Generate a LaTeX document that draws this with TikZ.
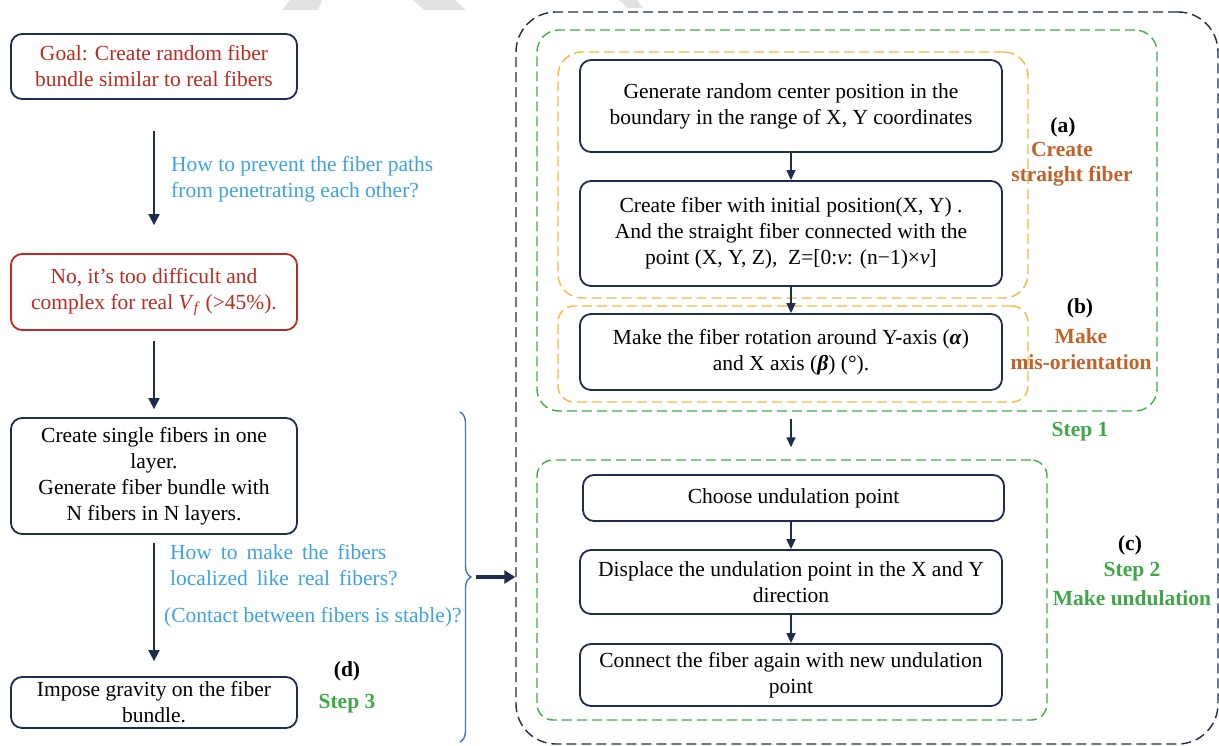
\documentclass[tikz,border=0pt]{standalone}
\usepackage{fontspec}
\setmainfont{Liberation Serif}
\usetikzlibrary{arrows.meta,decorations.pathreplacing}
\definecolor{navy}{HTML}{1F2D4D}
\definecolor{redc}{HTML}{BE2A1F}
\definecolor{bluet}{HTML}{3DA2E6}
\definecolor{gold}{HTML}{F6B93B}
\definecolor{greend}{HTML}{45A84A}
\definecolor{greent}{HTML}{3FA64A}
\definecolor{brown}{HTML}{C2622A}
\definecolor{bracec}{HTML}{4A72C2}
\definecolor{wm}{HTML}{E2E2E2}
\begin{document}
\begin{tikzpicture}[x=1pt,y=-1pt,
  every node/.style={font=\fontsize{21.5}{26}\selectfont, inner sep=0pt},
  box/.style={draw=navy, line width=1.8pt, rounded corners=11pt, align=center},
  grp/.style={draw, line width=1.4pt, dash pattern=on 10pt off 5pt, minimum width=10pt},
  arr/.style={draw=navy, line width=1.4pt, -{Triangle[length=10pt,width=9pt]}},
  larr/.style={draw=navy, line width=2.2pt, -{Triangle[length=11pt,width=11pt]}},
  quest/.style={text=bluet, align=left, anchor=west},
  lab/.style={font=\fontsize{21.5}{26}\selectfont\bfseries}
]
\useasboundingbox (0,0) rectangle (1219,746);
% watermark fragments
\fill[wm] (290,0) -- (322,0) -- (318,10) -- (282,10) -- cycle;
\fill[wm] (413,0) -- (455,0) -- (466,10) -- (424,10) -- cycle;
\fill[wm] (619,0) -- (637,0) -- (643,8) -- (628,8) -- cycle;

% ---------- left column ----------
\node[box, text=redc, minimum width=286, minimum height=65] (goal) at (154,66.5)
  {Goal: Create random fiber\\bundle similar to real fibers};
\node[box, draw=redc, text=redc, minimum width=286, minimum height=76] (no) at (154,292)
  {No, it’s too difficult and\\complex for real \textit{V}\textsubscript{\textit{f}} (>45\%).};
\node[box, minimum width=286, minimum height=116] (single) at (154,476)
  {Create single fibers in one\\layer.\\Generate fiber bundle with\\N fibers in N layers.};
\node[box, minimum width=286, minimum height=51] (impose) at (154,702.5)
  {Impose gravity on the fiber\\bundle.};

\draw[larr, shorten <=31pt, shorten >=28pt] (goal.south) -- (no.north);
\draw[larr, shorten <=10pt, shorten >=8pt] (no.south) -- (single.north);
\draw[larr, shorten <=8pt, shorten >=15pt] (single.south) -- (impose.north);

\node[quest] (q1) at (171,179) {How to prevent the fiber paths\\from penetrating each other?};
\node[quest] (q2) at (170,565) {How\, to\, make\, the\, fibers\\localized\, like\, real\, fibers?};
\node[quest] (q3) at (164,617) {(Contact between fibers is stable)?};

\node[lab] (d) at (347,671) {(d)};
\node[lab, text=greent] (s3) at (347,704) {Step 3};

% brace
\draw[bracec, line width=1.4pt, decorate, decoration={brace, amplitude=11pt}] (460,412) -- (460,742);
\coordinate (brtip) at (476,577);

% ---------- right column ----------
\node[grp, draw=navy, rounded corners=40pt, minimum width=702, minimum height=732] (outer) at (867,378) {};
\node[grp, draw=greend, rounded corners=22pt, minimum width=620, minimum height=381] (step1) at (847,220.5) {};
\node[grp, draw=gold, rounded corners=24pt, minimum width=470, minimum height=246] (ga) at (793,175) {};
\node[grp, draw=gold, rounded corners=16pt, minimum width=470, minimum height=96] (gb) at (793,354) {};
\node[grp, draw=greend, rounded corners=16pt, minimum width=510, minimum height=260] (step2) at (792,590) {};

\draw[navy, line width=4pt, -{Triangle[length=11pt,width=13pt]}] (brtip) -- (brtip -| outer.west);

\node[box, minimum width=422, minimum height=92] (gen) at (791,106)
  {Generate random center position in the\\boundary in the range of X, Y coordinates};
\node[box, minimum width=422, minimum height=105] (fib) at (791,233.5)
  {Create fiber with initial position(X, Y) .\\And the straight fiber connected with the\\point (X, Y, Z),\ \ Z=[0:\textit{v}: (n−1)×\textit{v}]};
\node[box, minimum width=422, minimum height=76] (rot) at (791,352)
  {Make the fiber rotation around Y-axis (\textbf{\textit{α}})\\and X axis (\textbf{\textit{β}}) (°).};
\node[box, minimum width=421, minimum height=46] (choose) at (793.5,498)
  {Choose undulation point};
\node[box, minimum width=422, minimum height=64] (disp) at (791,582)
  {Displace the undulation point in the X and Y\\direction};
\node[box, minimum width=422, minimum height=62] (conn) at (791,675)
  {Connect the fiber again with new undulation\\point};

\draw[arr] (gen.south) -- (fib.north);
\draw[arr] (fib.south) -- (rot.north);
\draw[arr, shorten <=7pt, shorten >=12pt] (step1.south -| rot.south) -- (step2.north -| rot.south);
\draw[arr] (choose.south -| disp.north) -- (disp.north);
\draw[arr] (disp.south) -- (conn.north);

\node[lab] (la) at (1063,127) {(a)};
\node[lab, text=brown] (la1) at (1062,149) {Create};
\node[lab, text=brown] (la2) at (1072,176) {straight fiber};
\node[lab] (lb) at (1080,308) {(b)};
\node[lab, text=brown] (lb1) at (1081,336) {Make};
\node[lab, text=brown] (lb2) at (1081,362) {mis-orientation};
\node[lab, text=greent] (s1) at (1080,432) {Step 1};
\node[lab] (lc) at (1130,545) {(c)};
\node[lab, text=greent] (lc1) at (1132,572) {Step 2};
\node[lab, text=greent] (lc2) at (1132,598) {Make undulation};
\end{tikzpicture}
\end{document}
